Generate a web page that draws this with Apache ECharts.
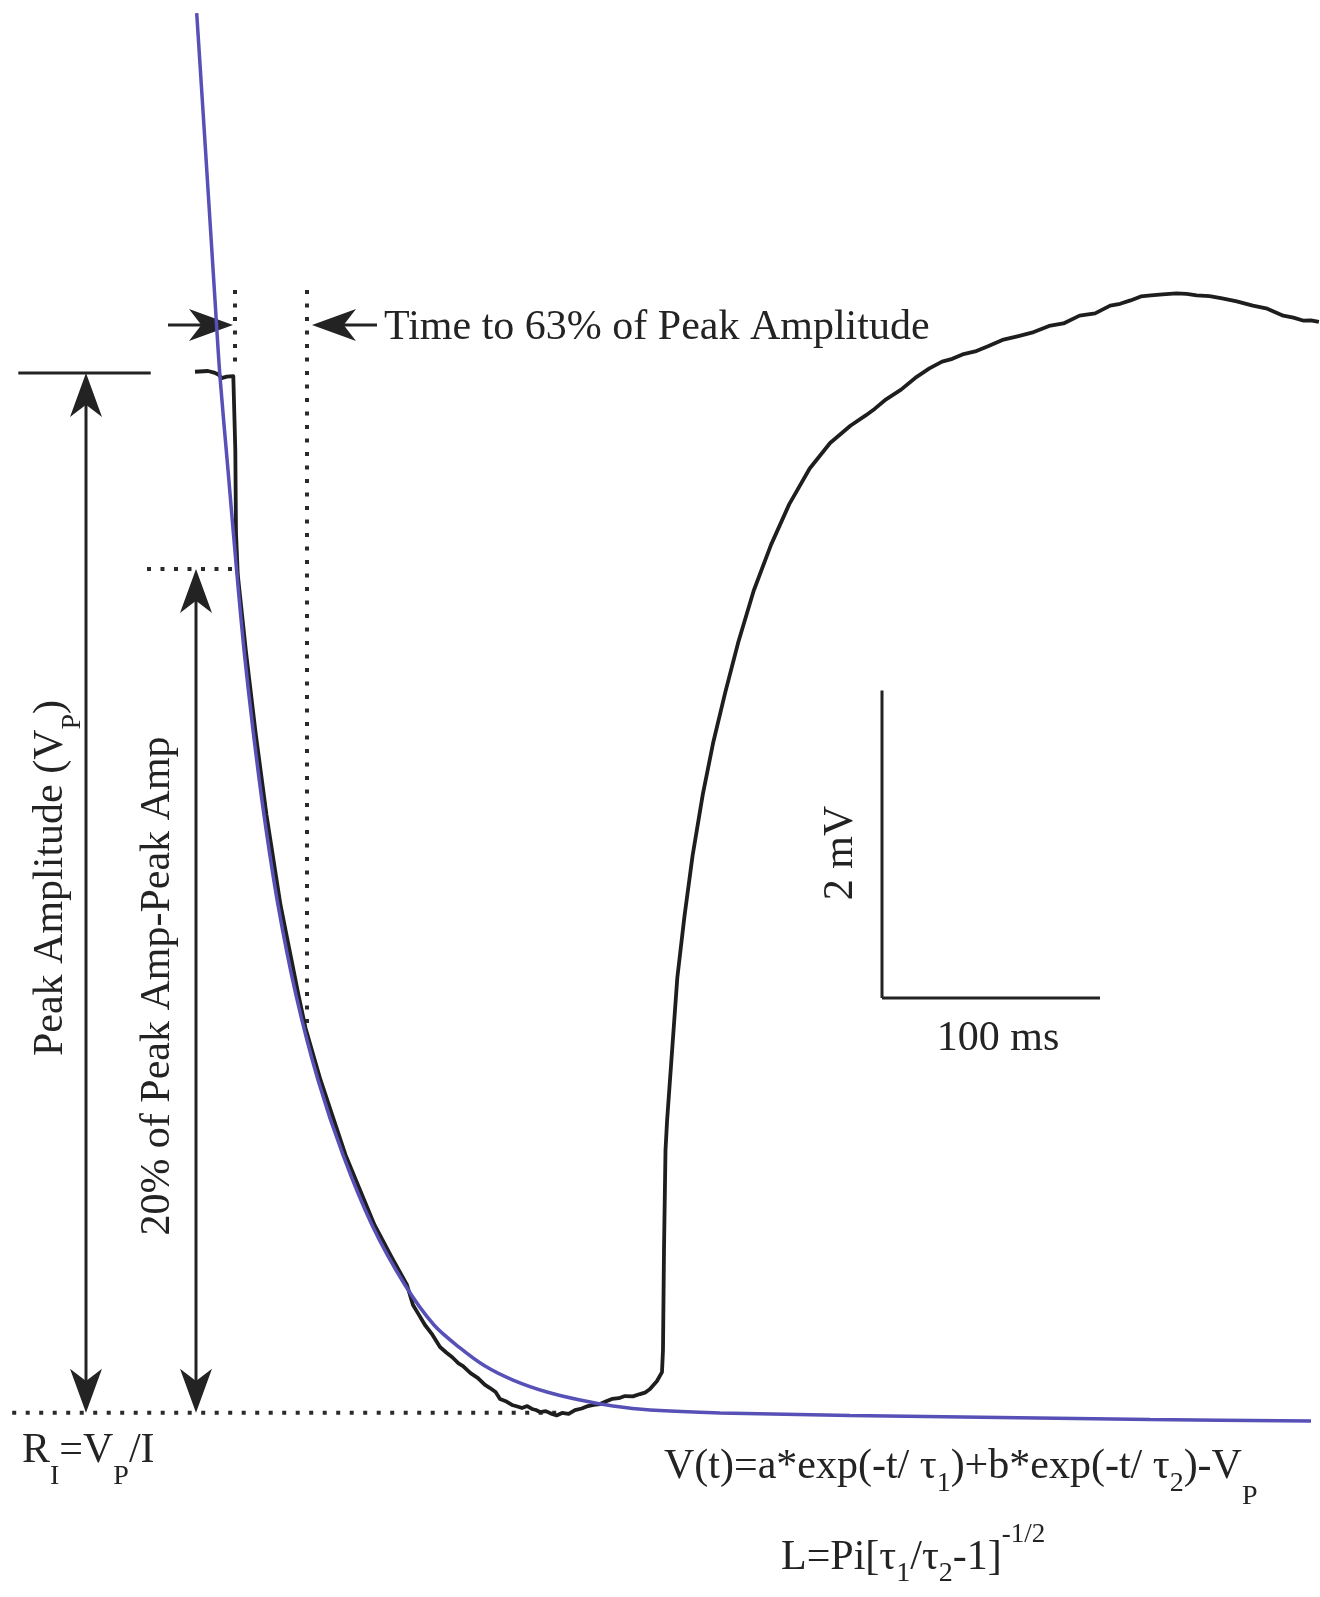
<!DOCTYPE html>
<html><head><meta charset="utf-8">
<script src="https://cdn.jsdelivr.net/npm/echarts@6/dist/echarts.min.js"></script>
<style>html,body{margin:0;padding:0;background:#fff}#c{width:1320px;height:1597px}</style>
</head><body><div id="c"></div>
<script>
// Units: time in ms (0 = onset of the current step), voltage in mV (0 = resting baseline)

// Recorded voltage response (black trace)
const recordedT = [-17.89,-11.93,-9.17,-7.20,-5.64,-3.35,-0.32,0.23,0.60,0.92,1.74,5.50,9.86,14.91,21.33,29.59,32.80,39.68,51.15,64.45,72.48,79.36,82.11,84.5,87.61,91.0,94.50,97.5,100.00,103.0,105.05,108.5,111.93,115.0,117.43,120.0,122.02,125.0,127.52,130.0,132.11,134.5,136.70,138.5,140.37,143.0,145.87,148.0,150.46,153.5,156.42,159.5,162.39,165.0,167.89,170.5,173.39,176.5,179.36,183.0,186.24,188.5,190.83,194.04,196.33,196.79,197.25,197.94,198.67,201.01,203.35,206.61,210.37,215.05,219.72,225.32,231.38,238.39,246.33,254.72,264.08,273.44,282.75,289.77,294.0,299.13,306.0,313.17,319.0,324.82,329.5,334.17,340.0,345.87,352.5,359.86,366.0,373.90,380.5,387.89,395.0,401.93,406.5,411.24,416.0,420.60,426.0,432.29,437.0,441.61,447.5,453.30,460.0,467.34,474.0,481.33,486.0,490.69,494.0,497.66];
const recordedV = [0.008,0.013,0.003,-0.010,-0.033,-0.024,-0.020,-0.023,-0.501,-1.041,-1.314,-1.815,-2.335,-2.875,-3.460,-4.046,-4.260,-4.598,-5.086,-5.541,-5.756,-5.932,-6.062,-6.118,-6.192,-6.255,-6.335,-6.372,-6.400,-6.441,-6.459,-6.505,-6.537,-6.580,-6.602,-6.628,-6.673,-6.690,-6.712,-6.722,-6.732,-6.719,-6.738,-6.745,-6.758,-6.752,-6.771,-6.780,-6.764,-6.770,-6.745,-6.735,-6.719,-6.712,-6.706,-6.690,-6.673,-6.668,-6.654,-6.656,-6.641,-6.632,-6.608,-6.556,-6.498,-6.354,-5.704,-5.054,-4.861,-4.397,-3.934,-3.536,-3.138,-2.741,-2.410,-2.079,-1.748,-1.416,-1.118,-0.853,-0.621,-0.455,-0.343,-0.276,-0.232,-0.171,-0.108,-0.025,0.030,0.074,0.092,0.121,0.140,0.174,0.215,0.240,0.262,0.306,0.322,0.373,0.388,0.438,0.450,0.472,0.498,0.505,0.512,0.518,0.514,0.505,0.500,0.485,0.466,0.438,0.418,0.373,0.360,0.340,0.342,0.333];

// Double-exponential fit (blue curve)
const fitT = [-17.11,-13.07,-8.72,-6.42,-2.75,1.15,4.59,8.72,13.76,20.18,28.44,38.53,50.00,63.30,78.44,91.74,103.67,115.14,127.98,143.58,158.72,173.85,190.83,222.94,282.57,351.38,420.18,494.04];
const fitV = [2.341,1.450,0.475,-0.026,-0.631,-1.275,-1.802,-2.322,-2.875,-3.460,-4.046,-4.598,-5.086,-5.541,-5.932,-6.192,-6.341,-6.459,-6.550,-6.628,-6.680,-6.719,-6.745,-6.764,-6.780,-6.793,-6.807,-6.816];

// Measurement levels (mV) and times (ms)
const peakLevel = -6.762;      // peak amplitude V_P below baseline
const level20 = -1.275;        // 20% of peak amplitude
const level63 = -4.247;        // 63% of peak amplitude
const dottedTop = 0.540;
const stepTime = 0.46;
const time63 = 33.49;
const arrowLevel = 0.312;

// Annotation segments [t1, v1, t2, v2]
const solidSegments = [[-98.94, 0, -38.21, 0]];
const dottedSegments = [
  [-101.74, peakLevel, 148.62, peakLevel],
  [-39.91, level20, 0.92, level20],
  [stepTime, dottedTop, stepTime, 0.039],
  [time63, dottedTop, time63, level63]
];
const doubleArrows = [
  [-67.89, 0, -67.89, peakLevel],
  [-17.43, level20, -17.43, peakLevel]
];
const singleArrows = [ // tail -> tip
  [-30.28, arrowLevel, -0.46, arrowLevel],
  [65.60, arrowLevel, 35.78, arrowLevel]
];
// Scale bar: corner position, 100 ms and 2 mV
const scaleBar = { t0: 297.25, v0: -4.065, dt: 100, dv: 2 };
const scaleSegments = [
  [scaleBar.t0, scaleBar.v0, scaleBar.t0, scaleBar.v0 + scaleBar.dv],
  [scaleBar.t0, scaleBar.v0, scaleBar.t0 + scaleBar.dt, scaleBar.v0]
];

const INK = '#232323';
const BLUE = '#5750b6';
const FAM = '"Liberation Serif", "Times New Roman", serif';
const F = s => s + 'px ' + FAM;

function pairs(xs, ys) { return xs.map((x, i) => [x, ys[i]]); }

function arrowHead(tip, from, L, W) {
  const dx = tip[0] - from[0], dy = tip[1] - from[1];
  const len = Math.hypot(dx, dy) || 1;
  const ux = dx / len, uy = dy / len, nx = -uy, ny = ux;
  const bx = tip[0] - ux * L, by = tip[1] - uy * L;
  return {
    type: 'polygon',
    shape: { points: [
      [tip[0], tip[1]],
      [bx + nx * W / 2, by + ny * W / 2],
      [tip[0] - ux * L * 0.72, tip[1] - uy * L * 0.72],
      [bx - nx * W / 2, by - ny * W / 2]
    ] },
    style: { fill: INK, stroke: null }
  };
}

function segSeries(segs, lineStyle, heads) {
  return {
    type: 'custom', coordinateSystem: 'cartesian2d', silent: true, z: 5,
    encode: { x: [0, 2], y: [1, 3] },
    data: segs,
    renderItem: function (params, api) {
      const p1 = api.coord([api.value(0), api.value(1)]);
      const p2 = api.coord([api.value(2), api.value(3)]);
      const L = 44, W = 32;
      const dx = p2[0] - p1[0], dy = p2[1] - p1[1];
      const len = Math.hypot(dx, dy) || 1;
      const ux = dx / len, uy = dy / len;
      let a = p1.slice(), b = p2.slice();
      const children = [];
      if (heads === 2) {
        a = [p1[0] + ux * L * 0.6, p1[1] + uy * L * 0.6];
        children.push(arrowHead(p1, p2, L, W));
      }
      if (heads >= 1) {
        b = [p2[0] - ux * L * 0.6, p2[1] - uy * L * 0.6];
        children.push(arrowHead(p2, p1, L, W));
      }
      children.unshift({ type: 'line', shape: { x1: a[0], y1: a[1], x2: b[0], y2: b[1] }, style: lineStyle });
      return { type: 'group', children: children };
    }
  };
}

const solidStyle = { stroke: INK, lineWidth: 3, fill: null };
const dotStyle = { stroke: '#2a2a2a', lineWidth: 4, lineDash: [4, 9.5], lineCap: 'butt', fill: null };

function txt(x, y, text, opts) {
  opts = opts || {};
  const style = {
    text: text, fill: INK, font: F(42),
    align: opts.align || 'center', textAlign: opts.align || 'center',
    verticalAlign: 'middle', textVerticalAlign: 'middle'
  };
  if (opts.rich) style.rich = opts.rich;
  return { type: 'text', x: x, y: y, rotation: opts.rot ? Math.PI / 2 : 0, silent: true, z: 10, style: style };
}
function richSet(subOff, sub2Off, supOff) {
  return {
    m: { font: F(42), fill: INK },
    s: { font: F(28), fill: INK, padding: [subOff * 2, 0, 0, 0] },
    s2: { font: F(28), fill: INK, padding: [(sub2Off || subOff) * 2, 0, 0, 0] },
    sup: { font: F(27), fill: INK, padding: [0, 0, (supOff || 0) * 2, 0] }
  };
}

const chart = echarts.init(document.getElementById('c'), null, { renderer: 'canvas' });
chart.setOption({
  animation: false,
  backgroundColor: '#ffffff',
  grid: { left: 0, right: 0, top: 0, bottom: 0 },
  xAxis: { type: 'value', min: -107.34, max: 498.17, show: false },
  yAxis: { type: 'value', min: -7.961, max: 2.426, show: false },
  series: [
    segSeries(dottedSegments, dotStyle, 0),
    segSeries(solidSegments, solidStyle, 0),
    segSeries(scaleSegments, solidStyle, 0),
    segSeries(doubleArrows, solidStyle, 2),
    segSeries(singleArrows, solidStyle, 1),
    { type: 'line', data: pairs(recordedT, recordedV), showSymbol: false, symbol: 'none', silent: true, z: 6,
      lineStyle: { color: '#1e1e1e', width: 3.8, join: 'round' } },
    { type: 'line', data: pairs(fitT, fitV), showSymbol: false, symbol: 'none', silent: true, smooth: 0.3, z: 7,
      lineStyle: { color: BLUE, width: 3.5 } }
  ],
  graphic: [
    txt(384, 328, 'Time to 63% of Peak Amplitude', { align: 'left' }),
    txt(51, 878, '{m|Peak Amplitude (V}{s|P}{m|)}', { rot: true, rich: richSet(22) }),
    txt(158, 986, '20% of Peak Amp-Peak Amp', { rot: true }),
    txt(841, 853, '2 mV', { rot: true }),
    txt(998, 1039, '100 ms'),
    txt(22, 1451, '{m|R}{s|I}{m|=V}{s|P}{m|/I}', { align: 'left', rich: richSet(26) }),
    txt(664, 1467, '{m|V(t)=a*exp(-t/ τ}{s|1}{m|)+b*exp(-t/ τ}{s|2}{m|)-V}{s2|P}', { align: 'left', rich: richSet(17, 30) }),
    txt(781, 1558, '{m|L=Pi[τ}{s|1}{m|/τ}{s|2}{m|-1]}{sup|-1/2}', { align: 'left', rich: richSet(16, 16, 23) })
  ]
});
</script>
</body></html>
